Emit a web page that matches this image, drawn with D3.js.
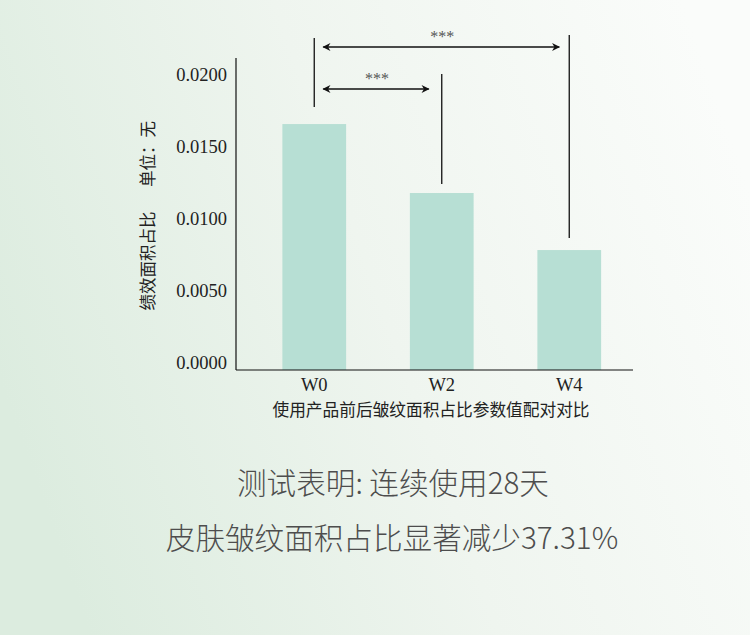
<!DOCTYPE html>
<html>
<head>
<meta charset="utf-8">
<script src="https://cdn.jsdelivr.net/npm/d3@7"></script>
<style>
  html, body { margin: 0; padding: 0; }
  body { width: 750px; height: 635px; overflow: hidden; }
  svg { display: block; }
</style>
</head>
<body>
<div id="chart"></div>
<script>
// data
var weeks = ['W0', 'W2', 'W4'];
var areaRatio = [0.01708, 0.01229, 0.00833];
var yTicks = [0, 0.005, 0.01, 0.015, 0.02];
// pairs compared, with their significance marks
var pairFrom = ['W0', 'W0'];
var pairTo = ['W2', 'W4'];
var pairMark = ['***', '***'];

var W = 750, H = 635;
var serif = '"Liberation Serif", "DejaVu Serif", "Noto Sans CJK SC", serif';
var cjk = '"Liberation Serif", "Noto Sans CJK SC", serif';

var svg = d3.select('#chart').append('svg')
  .attr('width', W)
  .attr('height', H);

// background wash: pale green at left fading to white at top right
var defs = svg.append('defs');
var grad = defs.append('linearGradient')
  .attr('id', 'bg')
  .attr('x1', '0').attr('y1', '0.6')
  .attr('x2', '1').attr('y2', '0.3');
grad.append('stop').attr('offset', '0%').attr('stop-color', '#dcecdf');
grad.append('stop').attr('offset', '50%').attr('stop-color', '#eff5ef');
grad.append('stop').attr('offset', '100%').attr('stop-color', '#fafcfa');
svg.append('rect')
  .attr('width', W).attr('height', H)
  .attr('fill', 'url(#bg)');

var x = d3.scaleBand()
  .domain(weeks)
  .range([250.5, 633])
  .paddingInner(0.5)
  .paddingOuter(0.25);

var y = d3.scaleLinear()
  .domain([0, 0.02])
  .range([370, 82]);

var g = svg.append('g');

// bars
g.selectAll('rect.bar')
  .data(areaRatio)
  .enter()
    .append('rect')
    .attr('class', 'bar')
    .attr('x', function(d, i){ return x(weeks[i]); })
    .attr('width', x.bandwidth())
    .attr('y', function(d){ return y(d); })
    .attr('height', function(d){ return y(0) - y(d); })
    .attr('fill', '#b7dfd4');

// y axis: line only, no ticks
var yAxis = d3.axisLeft(y)
  .tickValues(yTicks)
  .tickSize(0)
  .tickPadding(9)
  .tickFormat(d3.format('.4f'));
var ya = g.append('g')
  .attr('transform', 'translate(236,0)')
  .call(yAxis);
ya.select('.domain').remove();
ya.selectAll('text')
  .attr('dy', '-0.1em')
  .attr('font-family', serif)
  .attr('font-size', 18.5)
  .attr('fill', '#222');
g.append('line')
  .attr('x1', 236).attr('x2', 236)
  .attr('y1', 58).attr('y2', y(0))
  .attr('stroke', '#111').attr('stroke-width', 1.2);

// x axis
var xAxis = d3.axisBottom(x).tickSize(0).tickPadding(8);
var xa = g.append('g')
  .attr('transform', 'translate(0,' + y(0) + ')')
  .call(xAxis);
xa.select('.domain').remove();
xa.selectAll('text')
  .attr('font-family', serif)
  .attr('font-size', 18.5)
  .attr('fill', '#222');
g.append('line')
  .attr('x1', 236).attr('x2', 633)
  .attr('y1', y(0)).attr('y2', y(0))
  .attr('stroke', '#111').attr('stroke-width', 1.2);

// axis titles
g.append('text')
  .attr('x', 431).attr('y', 416)
  .attr('text-anchor', 'middle')
  .attr('font-family', cjk)
  .attr('font-size', 16.7)
  .attr('fill', '#222')
  .text('使用产品前后皱纹面积占比参数值配对对比');

g.append('text')
  .attr('transform', 'translate(154,261) rotate(-90)')
  .attr('text-anchor', 'middle')
  .attr('font-family', cjk)
  .attr('font-size', 16.5)
  .attr('fill', '#222')
  .text('绩效面积占比');
g.append('text')
  .attr('transform', 'translate(154,154) rotate(-90)')
  .attr('text-anchor', 'middle')
  .attr('font-family', cjk)
  .attr('font-size', 16.5)
  .attr('fill', '#222')
  .text('单位：无');

// significance brackets
defs.append('marker')
  .attr('id', 'arr')
  .attr('viewBox', '0 0 10 10')
  .attr('refX', 9).attr('refY', 5)
  .attr('markerWidth', 10).attr('markerHeight', 8)
  .attr('markerUnits', 'userSpaceOnUse')
  .attr('orient', 'auto-start-reverse')
  .append('path')
  .attr('d', 'M0,0 L10,5 L0,10 L3,5 Z')
  .attr('fill', '#111');

var cx = function(k){ return x(k) + x.bandwidth() / 2; };
var ink = '#111';

// vertical guide lines above each bar
var guideTop = [38, 74, 35];     // y where each guide starts
var guideBottom = [107, 184, 238];
weeks.forEach(function(k, i){
  g.append('line')
    .attr('x1', cx(k)).attr('x2', cx(k))
    .attr('y1', guideTop[i]).attr('y2', guideBottom[i])
    .attr('stroke', ink).attr('stroke-width', 1.3);
});

// arrows between guides
var arrowY = [89, 47];
pairFrom.forEach(function(a, i){
  var x1 = cx(a) + 9, x2 = cx(pairTo[i]) - (i === 0 ? 13 : 10);
  g.append('line')
    .attr('x1', x1).attr('x2', x2)
    .attr('y1', arrowY[i]).attr('y2', arrowY[i])
    .attr('stroke', ink).attr('stroke-width', 1.3)
    .attr('marker-start', 'url(#arr)')
    .attr('marker-end', 'url(#arr)');
  g.append('text')
    .attr('x', (x1 + x2) / 2 + 1)
    .attr('y', arrowY[i] - 5)
    .attr('text-anchor', 'middle')
    .attr('font-family', serif)
    .attr('font-size', 16)
    .attr('fill', '#555')
    .text(pairMark[i]);
});

// conclusion text
var note = svg.append('g')
  .attr('font-family', '"Noto Sans CJK SC", sans-serif')
  .attr('font-weight', 300)
  .attr('font-size', 29.6)
  .attr('fill', '#4d4d4d')
  .attr('text-anchor', 'middle');
note.append('text').attr('x', 393).attr('y', 494).text('测试表明: 连续使用28天');
note.append('text').attr('x', 392).attr('y', 549).text('皮肤皱纹面积占比显著减少37.31%');
</script>
</body>
</html>
